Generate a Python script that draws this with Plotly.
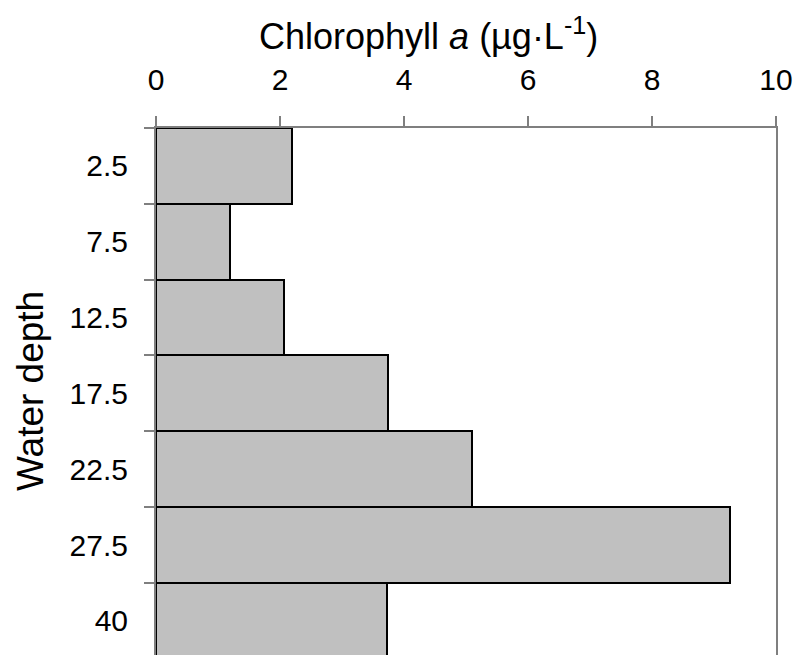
import plotly.graph_objects as go

# Water depth classes (m) and chlorophyll a concentration (µg/L)
depths = ["2.5", "7.5", "12.5", "17.5", "22.5", "27.5", "40"]
chl_a = [2.2, 1.19, 2.07, 3.74, 5.1, 9.26, 3.73]
x_ticks = [0, 2, 4, 6, 8, 10]

FONT = "Liberation Sans, Arial, sans-serif"
AXIS_GRAY = "#7f7f7f"

fig = go.Figure(
    go.Bar(
        x=chl_a,
        y=depths,
        orientation="h",
        width=1.0,
        marker=dict(color="#c0c0c0", line=dict(color="black", width=2)),
        hoverinfo="x+y",
    )
)

fig.update_layout(
    width=796,
    height=655,
    margin=dict(l=156, r=20, t=128, b=0),
    plot_bgcolor="white",
    paper_bgcolor="white",
    bargap=0,
    showlegend=False,
    font=dict(family=FONT, size=30, color="black"),
    xaxis=dict(
        side="top",
        range=[0, 10],
        tickvals=x_ticks,
        ticktext=[str(v) for v in x_ticks],
        ticks="outside",
        ticklen=10,
        tickwidth=1.5,
        tickcolor=AXIS_GRAY,
        showline=True,
        linecolor=AXIS_GRAY,
        linewidth=1.5,
        showgrid=False,
        zeroline=False,
        tickfont=dict(family=FONT, size=30, color="black"),
        ticklabelstandoff=14,
    ),
    yaxis=dict(
        type="category",
        categoryorder="array",
        categoryarray=depths,
        range=[6.45, -0.5],
        tickson="boundaries",
        ticks="outside",
        ticklen=10,
        tickwidth=1.5,
        tickcolor=AXIS_GRAY,
        showline=True,
        mirror=True,
        linecolor=AXIS_GRAY,
        linewidth=2,
        showgrid=False,
        zeroline=False,
        tickfont=dict(family=FONT, size=30, color="black"),
        ticklabelstandoff=20,
    ),
    annotations=[
        dict(
            text="Chlorophyll <i>a</i> (µg·L<sup>-1</sup>)",
            xref="paper", yref="paper",
            x=(428 - 156) / 620, y=1,
            yshift=94,
            xanchor="center", yanchor="middle",
            showarrow=False,
            font=dict(family=FONT, size=36, color="black"),
        ),
        dict(
            text="Water depth",
            xref="paper", yref="paper",
            x=0, y=(655 - 391) / 527,
            xshift=-126,
            textangle=-90,
            xanchor="center", yanchor="middle",
            showarrow=False,
            font=dict(family=FONT, size=37, color="black"),
        ),
    ],
)

fig.write_html("out.html")
